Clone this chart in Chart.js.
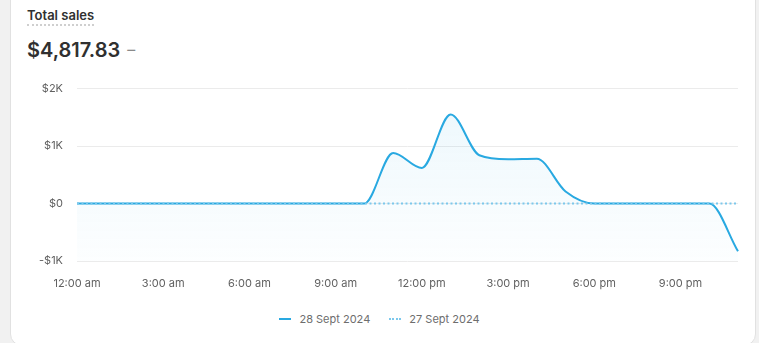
<!DOCTYPE html>
<html>
<head>
<meta charset="utf-8">
<script src="https://cdn.jsdelivr.net/npm/chart.js@4.4.1/dist/chart.umd.min.js"></script>
<style>
  html, body { margin: 0; padding: 0; background: #f1f1f1; font-family: Inter, "Noto Sans", sans-serif; }
  body { width: 759px; height: 343px; overflow: hidden; position: relative; }
  .card {
    position: absolute; left: 10px; top: -12px; width: 744px; height: 356px;
    background: #fff; border: 1px solid #e1e1e1; border-radius: 12px;
  }
  .title {
    position: absolute; left: 27px; top: 7px; font-size: 13px; font-weight: 600; color: #303030;
    border-bottom: 2px dotted #cfcfcf; padding-bottom: 1px; line-height: 16px;
  }
  .total {
    position: absolute; left: 27px; top: 38px; font-size: 20px; font-weight: 600; color: #303030; line-height: 24px;
  }
  .total span { font-weight: 400; color: #8a8a8a; font-size: 16px; margin-left: 7px; position: relative; top: -2px; }
  .chart-box { position: absolute; left: 10px; top: 68px; width: 746px; height: 230px; }
  .legend {
    position: absolute; left: 0; width: 759px; top: 309px; text-align: center; font-size: 11px; color: #6d6d6d;
  }
  .legend .item { display: inline-flex; align-items: center; margin: 0 8px; }
  .legend .mark { width: 12px; height: 0; margin-right: 8px; }
</style>
</head>
<body>
<div class="card"></div>
<div class="title">Total sales</div>
<div class="total">$4,817.83<span>–</span></div>
<div class="chart-box"><canvas id="salesChart"></canvas></div>
<div class="legend">
  <span class="item"><span class="mark" style="border-top:2px solid #29a9e1"></span>28 Sept 2024</span>
  <span class="item"><span class="mark" style="border-top:2px dotted #7cc8ec"></span>27 Sept 2024</span>
</div>
<script>
// Etiquetas por hora
const hourLabels = ['12:00 am', '1:00 am', '2:00 am', '3:00 am', '4:00 am', '5:00 am', '6:00 am', '7:00 am',
  '8:00 am', '9:00 am', '10:00 am', '11:00 am', '12:00 pm', '1:00 pm', '2:00 pm', '3:00 pm', '4:00 pm',
  '5:00 pm', '6:00 pm', '7:00 pm', '8:00 pm', '9:00 pm', '10:00 pm', '11:00 pm'];

// Ventas 28 Sept 2024
const salesToday = [0, 0, 0, 0, 0, 0, 0, 0, 0, 0, 0, 880, 620, 1550, 840, 770, 780, 210, 0, 0, 0, 0, 0, -830];
// Ventas 27 Sept 2024
const salesPrev = [0, 0, 0, 0, 0, 0, 0, 0, 0, 0, 0, 0, 0, 0, 0, 0, 0, 0, 0, 0, 0, 0, 0, 0];

const yTicks = [-1000, 0, 1000, 2000];

const textColor = '#616161';
const gridColor = '#ebebeb';

const ctx = document.getElementById('salesChart');

const salesChart = new Chart(ctx, {
  type: 'line',
  data: {
    labels: hourLabels,
    datasets: [
      {
        label: '28 Sept 2024',
        data: salesToday,
        borderColor: '#29a9e1',
        borderWidth: 2,
        pointRadius: 0,
        cubicInterpolationMode: 'monotone',
        fill: 'start',
        backgroundColor: (context) => {
          const area = context.chart.chartArea;
          if (!area) return 'rgba(41,169,225,0.05)';
          const g = context.chart.ctx.createLinearGradient(0, area.top, 0, area.bottom);
          g.addColorStop(0, 'rgba(41,169,225,0.09)');
          g.addColorStop(1, 'rgba(41,169,225,0.01)');
          return g;
        },
        order: 2
      },
      {
        label: '27 Sept 2024',
        data: salesPrev,
        borderColor: '#7cc8ec',
        borderWidth: 2,
        borderDash: [2, 2.5],
        pointRadius: 0,
        fill: false,
        order: 1
      }
    ]
  },
  options: {
    responsive: true,
    maintainAspectRatio: false,
    animation: false,
    layout: { padding: { top: 8, right: 18, bottom: 0, left: 0 } },
    plugins: {
      legend: { display: false },
      tooltip: { enabled: false }
    },
    scales: {
      y: {
        min: -1000,
        max: 2000,
        afterBuildTicks: (axis) => { axis.ticks = yTicks.map(v => ({ value: v })); },
        afterFit: (axis) => { axis.width = 67; },
        ticks: {
          color: textColor,
          font: { family: 'Inter', size: 11 },
          padding: 14,
          callback: (value) => {
            if (value === 0) return '$0';
            const k = Math.abs(value) / 1000;
            return (value < 0 ? '-$' : '$') + k + 'K';
          }
        },
        grid: { color: gridColor, drawTicks: false },
        border: { display: false }
      },
      x: {
        afterFit: (axis) => { axis.height = 37; },
        ticks: {
          color: textColor,
          font: { family: 'Inter', size: 11 },
          autoSkip: false,
          maxRotation: 0,
          padding: 8,
          callback: (value, index) => index % 3 === 0 ? hourLabels[index] : ''
        },
        grid: { display: false },
        border: { display: false }
      }
    }
  }
});
</script>
</body>
</html>
